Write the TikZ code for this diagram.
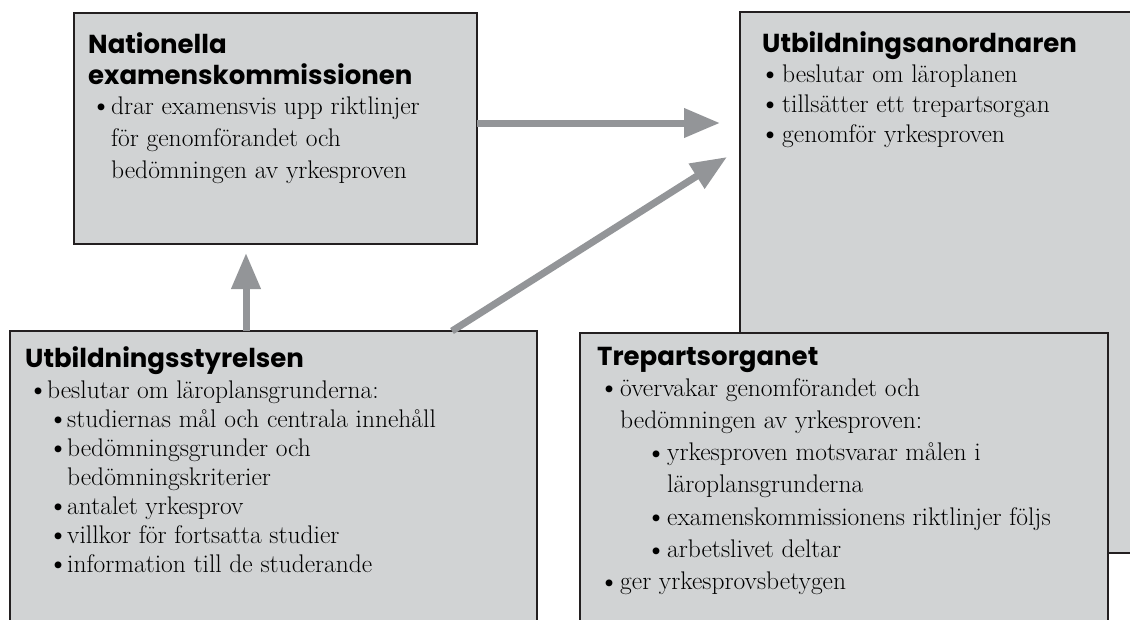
\documentclass[tikz,border=0pt]{standalone}
\usepackage{fontspec}
\newfontfamily\hdfont{Poppins}
\usetikzlibrary{arrows.meta,calc}
\definecolor{boxgray}{HTML}{D1D3D4}
\definecolor{arrgray}{HTML}{939598}
\definecolor{edgecol}{HTML}{231F20}
\tikzset{
  box/.style={draw=edgecol, line width=2.5pt, fill=boxgray, rectangle, anchor=north west, inner sep=0pt, outer sep=0pt},
  arr/.style={draw=arrgray, line width=7pt, -{Triangle[length=36pt,width=28pt]}},
  txt/.style={anchor=base west, inner sep=0pt},
}
\newcommand\bigbul{\raisebox{-0.15ex}{\scalebox{1.2}{\textbullet}}}
\newcommand\bp[2]{\makebox[0pt][l]{\hspace*{#1pt}\hspace*{-3pt}\bigbul}\hspace*{#2pt}}
\newcommand\ti[1]{\hspace*{#1pt}}
% #1 heading, #2 heading leading, #3 gap adjust, #4 body leading, #5 body
\newcommand\boxtext[5]{\parbox[t]{600pt}{\raggedright\parskip=0pt
  {\hdfont\bfseries\fontsize{26}{#2}\selectfont #1\par}%
  \vspace*{#3pt}%
  {\fontsize{25.5}{#4}\selectfont #5\par}}}
\begin{document}
\begin{tikzpicture}[x=1pt,y=-1pt]
\useasboundingbox (0,0) rectangle (1130,619);
\clip (0,0) rectangle (1130,619);
% boxes
\node[box, minimum width=403pt, minimum height=231pt] (kom) at (74,13) {};
\node[box, minimum width=410pt, minimum height=541pt] (anord) at (740,12) {};
\node[box, minimum width=527pt, minimum height=300pt] (styr) at (10,331) {};
\node[box, minimum width=528pt, minimum height=300pt] (trep) at (580,333) {};
% texts
\node[txt] (komt) at (88,53) {\boxtext{Nationella\\examenskommissionen}{31}{-2}{32}{%
\ti{5}\bp{0}{18}drar examensvis upp riktlinjer\\
\ti{23}för genomförandet och\\
\ti{23}bedömningen av yrkesproven}};
\node[txt] (anordt) at (762,52) {\boxtext{Utbildningsanordnaren}{31}{0}{30}{%
\bp{0}{20}beslutar om läroplanen\\
\bp{0}{20}tillsätter ett trepartsorgan\\
\bp{0}{20}genomför yrkesproven}};
\node[txt] (styrt) at (25,367) {\boxtext{Utbildningsstyrelsen}{31}{2}{29}{%
\ti{5}\bp{0}{17}beslutar om läroplansgrunderna:\\
\ti{5}\bp{20}{37}studiernas mål och centrala innehåll\\
\ti{5}\bp{20}{37}bedömningsgrunder och\\
\ti{42}bedömningskriterier\\
\ti{5}\bp{20}{37}antalet yrkesprov\\
\ti{5}\bp{20}{37}villkor för fortsatta studier\\
\ti{5}\bp{20}{37}information till de studerande}};
\node[txt] (trept) at (597,365) {\boxtext{Trepartsorganet}{31}{-1.3}{32.3}{%
\ti{4}\bp{0}{19}övervakar genomförandet och\\
\ti{23}bedömningen av yrkesproven:\\
\ti{4}\bp{47}{66}yrkesproven motsvarar målen i\\
\ti{70}läroplansgrunderna\\
\ti{4}\bp{47}{66}examenskommissionens riktlinjer följs\\
\ti{4}\bp{47}{66}arbetslivet deltar\\
\ti{4}\bp{0}{19}ger yrkesprovsbetygen}};
% connectors
\coordinate (h1) at (720,123);
\coordinate (d1) at (727,157);
\coordinate (v1) at (246,253);
\draw[arr] (kom.east |- h1) -- (h1);
\draw[arr] ([xshift=178.5pt]styr.north) -- (d1);
\draw[arr] (styr.north -| v1) -- (v1);
\end{tikzpicture}
\end{document}
